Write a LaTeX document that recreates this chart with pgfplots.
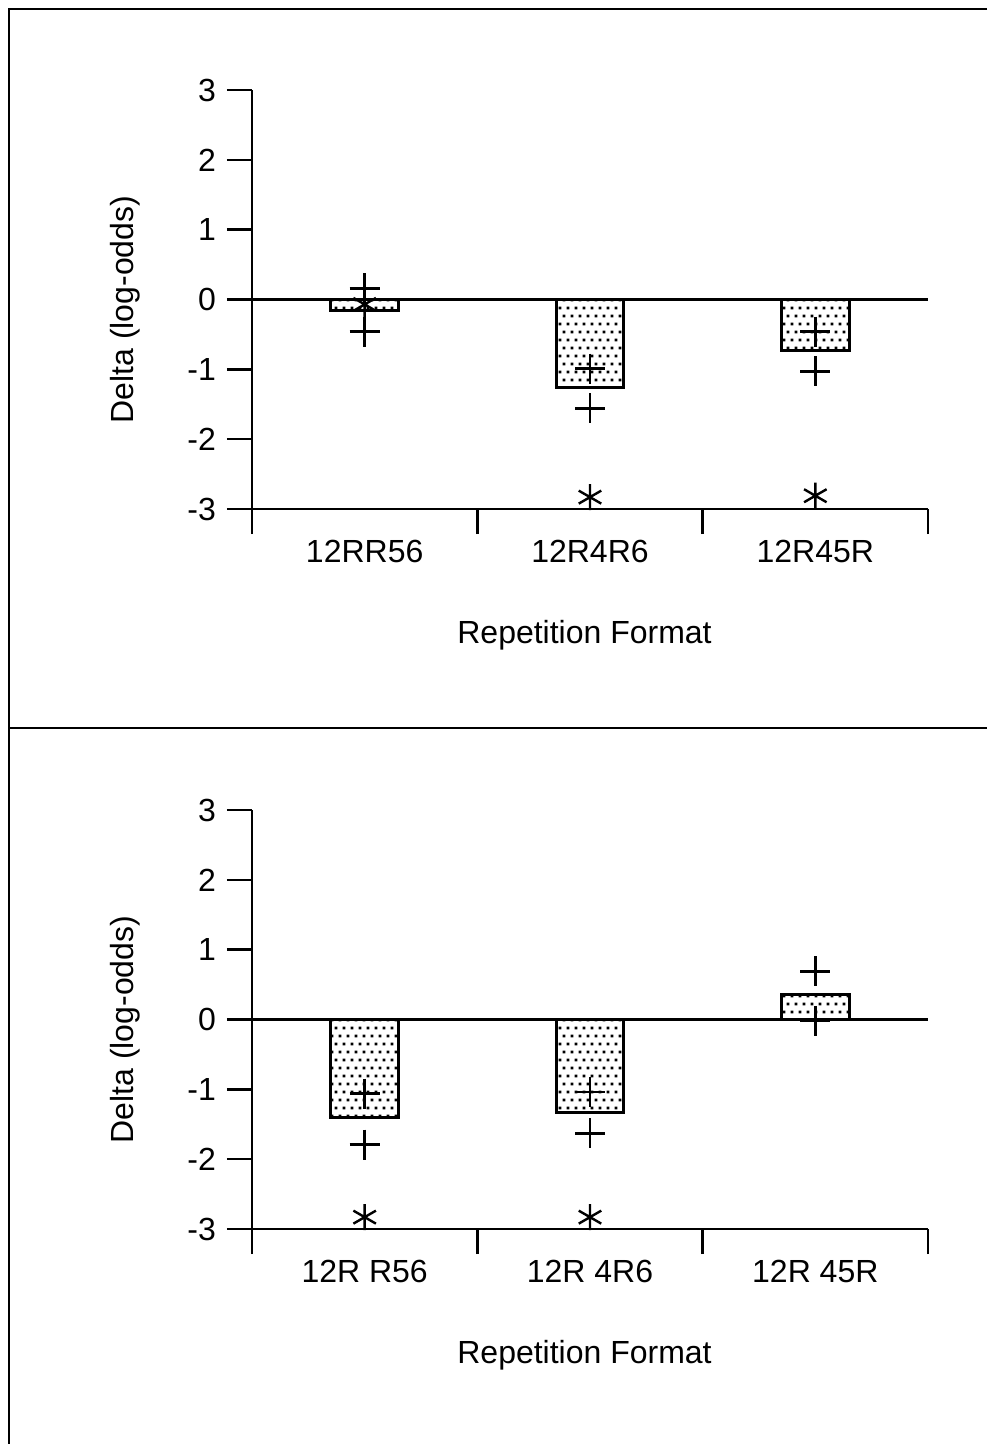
\documentclass[border=0pt]{standalone}
\usepackage{fontspec}
\setmainfont{Liberation Sans}
\usepackage{pgfplots}
\pgfplotsset{compat=1.18}
\usetikzlibrary{patterns}
\pgfdeclarepatternformonly{bardots}{\pgfqpoint{-0.8pt}{-0.8pt}}{\pgfqpoint{2.8pt}{4.8pt}}{\pgfqpoint{4pt}{8pt}}{%
  \pgfpathrectangle{\pgfqpoint{-0.7pt}{-0.7pt}}{\pgfqpoint{1.4pt}{1.4pt}}%
  \pgfpathrectangle{\pgfqpoint{1.3pt}{3.3pt}}{\pgfqpoint{1.4pt}{1.4pt}}%
  \pgfusepath{fill}}

\pgfplotstableread{
x bar p1 p2
0 -0.16 0.16 -0.46
1 -1.26 -0.99 -1.56
2 -0.73 -0.46 -1.03
}\toptable
\pgfplotstableread{
x ast
0 -0.07
1 -2.83
2 -2.81
}\topast
\pgfplotstableread{
x bar p1 p2
0 -1.40 -1.06 -1.79
1 -1.33 -1.04 -1.63
2 0.36 0.69 -0.02
}\bottable
\pgfplotstableread{
x ast
0 -2.83
1 -2.83
}\botast

\pgfplotsset{myaxis/.style={
  scale only axis, width=338pt, height=209.5pt,
  xmin=-0.5, xmax=2.5, ymin=-3, ymax=3,
  axis x line=bottom, axis y line=left,
  axis line style={-, line width=1.2pt},
  every tick/.style={black, line width=1.2pt},
  tick align=outside,
  major tick length=12.5pt, minor tick length=12.5pt,
  xtick={0,1,2}, minor xtick={-0.5,0.5,1.5,2.5},
  major x tick style={draw=none},
  ytick={-3,-2,-1,0,1,2,3}, yticklabels={-3,-2,-1,0,1,2,3},
  font=\fontsize{16pt}{19pt}\selectfont,
  tick label style={font=\fontsize{16pt}{19pt}\selectfont},
  xticklabel style={anchor=base, yshift=-14pt},
  yticklabel style={xshift=-2pt},
  xlabel={Repetition Format}, ylabel={Delta (log-odds)},
  xlabel style={at={(axis description cs:0.4919,-0.321)}, anchor=base},
  ylabel style={at={(axis description cs:-0.175,0.476)}, anchor=base},
  clip=false,
}}

\begin{document}
\begin{tikzpicture}
\useasboundingbox (0,0) rectangle (493.5pt,-722pt);
\draw[line width=1.3pt] (493.5pt,-4.5pt) -- (4.5pt,-4.5pt) -- (4.5pt,-722pt);
\draw[line width=1.3pt] (4.5pt,-364pt) -- (493.5pt,-364pt);

\begin{axis}[myaxis, at={(126pt,-254.5pt)}, anchor=south west,
  xticklabels={12RR56,12R4R6,12R45R}]
\addplot[only marks, mark=asterisk, mark size=6.5pt, black, line width=1.2pt] table[x=x,y=ast] {\topast};
\addplot[black, line width=1.2pt, mark=none] coordinates {(-0.5,0) (2.5,0)};
\addplot[ybar, bar width=0.3, draw=black, line width=1.5pt, fill=white, postaction={pattern=bardots}] table[x=x,y=bar] {\toptable};
\addplot[only marks, mark=+, mark size=7.5pt, black, line width=1.2pt] table[x=x,y=p1] {\toptable};
\addplot[only marks, mark=+, mark size=7.5pt, black, line width=1.2pt] table[x=x,y=p2] {\toptable};
\end{axis}

\begin{axis}[myaxis, at={(126pt,-614.5pt)}, anchor=south west,
  xticklabels={12R R56,12R 4R6,12R 45R}]
\addplot[only marks, mark=asterisk, mark size=6.5pt, black, line width=1.2pt] table[x=x,y=ast] {\botast};
\addplot[black, line width=1.2pt, mark=none] coordinates {(-0.5,0) (2.5,0)};
\addplot[ybar, bar width=0.3, draw=black, line width=1.5pt, fill=white, postaction={pattern=bardots}] table[x=x,y=bar] {\bottable};
\addplot[only marks, mark=+, mark size=7.5pt, black, line width=1.2pt] table[x=x,y=p1] {\bottable};
\addplot[only marks, mark=+, mark size=7.5pt, black, line width=1.2pt] table[x=x,y=p2] {\bottable};
\end{axis}
\end{tikzpicture}
\end{document}
